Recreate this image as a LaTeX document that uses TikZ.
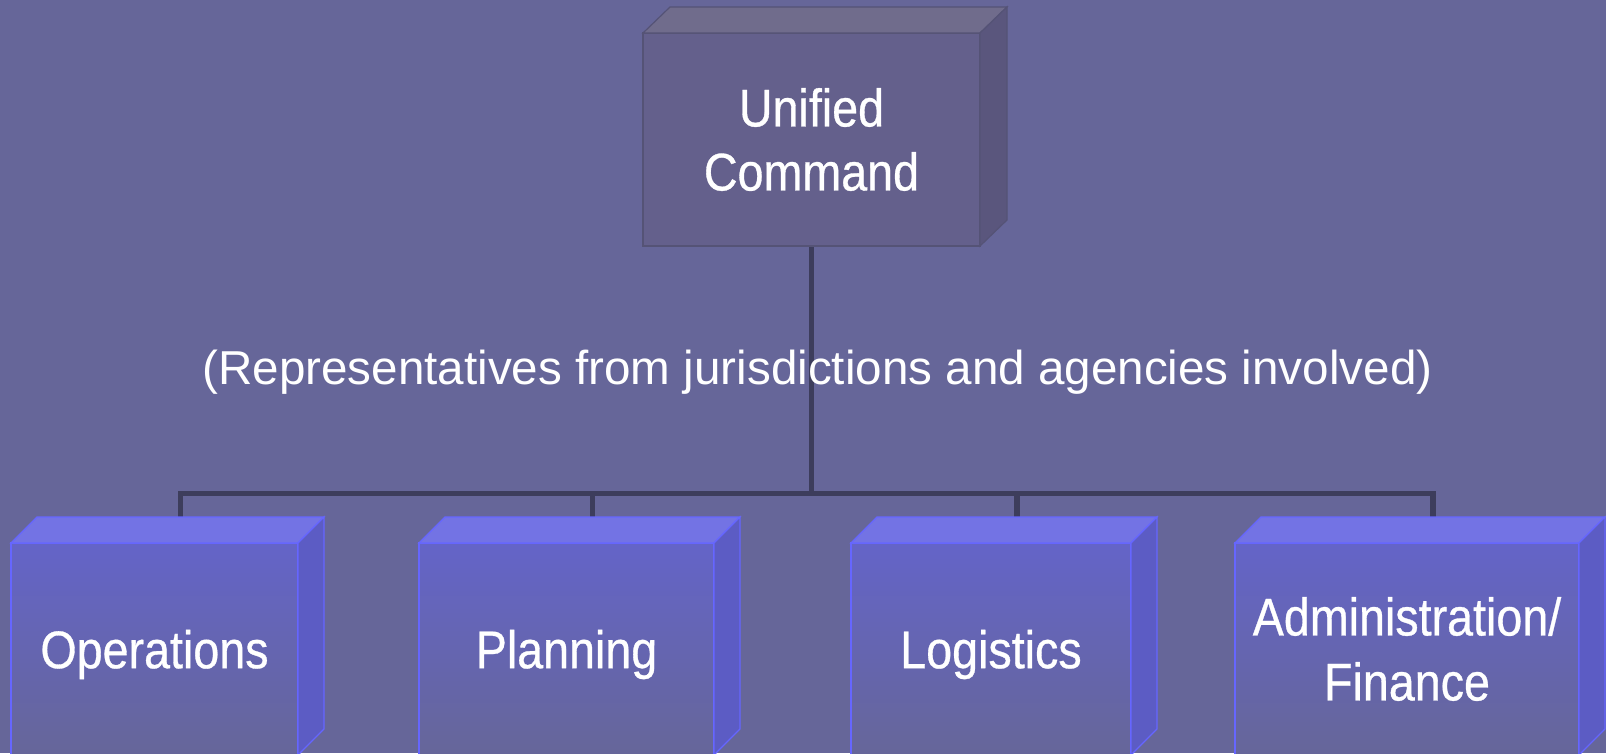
\documentclass[tikz,border=0pt]{standalone}
\usepackage{fontspec}
\setmainfont{Liberation Sans}
\newfontfamily\boxfont[FakeStretch=0.88,FakeBold=0.6]{Liberation Sans}
\definecolor{bg}{RGB}{102,102,153}
\definecolor{ucfront}{RGB}{100,96,140}
\definecolor{uctop}{RGB}{112,108,140}
\definecolor{ucside}{RGB}{90,86,125}
\definecolor{ucborder}{RGB}{85,83,118}
\definecolor{divfronttop}{RGB}{100,100,200}
\definecolor{divfrontbot}{RGB}{102,102,153}
\definecolor{divtop}{RGB}{115,115,228}
\definecolor{divside}{RGB}{92,92,196}
\definecolor{divborder}{RGB}{102,102,255}
\definecolor{conncol}{RGB}{61,61,92}
\newcommand{\boxsides}[6]{%
  \filldraw[fill=#4,draw=#6,line width=1.2pt,line join=miter]
    (#1.north west) -- ++(#2,-#3) -- ([shift={(#2,-#3)}]#1.north east) -- (#1.north east) -- cycle;
  \filldraw[fill=#5,draw=#6,line width=1.2pt,line join=miter]
    (#1.north east) -- ++(#2,-#3) -- ([shift={(#2,-#3)}]#1.south east) -- (#1.south east) -- cycle;
}
\begin{document}
\begin{tikzpicture}[x=1pt,y=-1pt,
  ucface/.style={draw=ucborder, fill=ucfront, line width=1.2pt, minimum width=337pt, minimum height=213pt,
    inner sep=0pt, outer sep=0pt, align=center, text=white, font=\boxfont\fontsize{53}{64}\selectfont},
  divface/.style={draw=divborder, line width=1.2pt, top color=divfronttop, bottom color=divfrontbot,
    minimum height=212pt, inner sep=0pt, outer sep=0pt, align=center, text=white,
    font=\boxfont\fontsize{53}{65}\selectfont},
  oneline/.style={text depth=0pt},
  conn/.style={draw=conncol, line width=5.5pt, line join=miter},
  note/.style={text=white, font=\fontsize{47.6}{57}\selectfont, anchor=base, inner sep=0pt}]
\fill[bg] (0,0) rectangle (1606,753);
\useasboundingbox (0,0) rectangle (1606,753);

% nodes (front faces)
\node[ucface] (uc) at (811.5,139.5) {Unified\\Command};
\node[divface,oneline,minimum width=287pt] (ops) at (154.5,649) {Operations};
\node[divface,oneline,minimum width=295pt] (pla) at (566.5,649) {Planning};
\node[divface,oneline,minimum width=280pt] (log) at (991,649) {Logistics};
\node[divface,minimum width=344pt] (adm) at (1407,649) {Administration/\\Finance};

% attachment points (centre of the back top edge)
\coordinate (opsT) at ([shift={(26,-26)}]ops.north);
\coordinate (plaT) at ([shift={(26,-26)}]pla.north);
\coordinate (logT) at ([shift={(26,-26)}]log.north);
\coordinate (admT) at ([shift={(26,-26)}]adm.north);
\coordinate (bus) at (811.5,493.5);

% connectors
\draw[conn] (uc.south) -- (uc.south |- bus);
\draw[conn] (opsT) -- (opsT |- bus) -- (admT |- bus) -- (admT);
\draw[conn] (plaT) -- (plaT |- bus);
\draw[conn] (logT) -- (logT |- bus);

% redraw faces on top of connector ends
\node[ucface] at (uc) {Unified\\Command};
\boxsides{uc}{27}{26}{uctop}{ucside}{ucborder}
\node[divface,oneline,minimum width=287pt] at (ops) {Operations};
\boxsides{ops}{26}{26}{divtop}{divside}{divborder}
\node[divface,oneline,minimum width=295pt] at (pla) {Planning};
\boxsides{pla}{26}{26}{divtop}{divside}{divborder}
\node[divface,oneline,minimum width=280pt] at (log) {Logistics};
\boxsides{log}{26}{26}{divtop}{divside}{divborder}
\node[divface,minimum width=344pt] at (adm) {Administration/\\Finance};
\boxsides{adm}{26}{26}{divtop}{divside}{divborder}

\node[note] (rep) at (817.5,384) {(Representatives from jurisdictions and agencies involved)};
\end{tikzpicture}
\end{document}
